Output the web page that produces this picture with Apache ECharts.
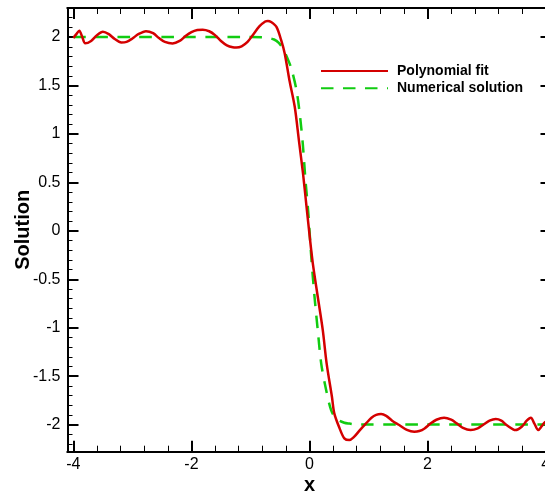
<!DOCTYPE html>
<html>
<head>
<meta charset="utf-8">
<script src="https://cdn.jsdelivr.net/npm/echarts@6/dist/echarts.min.js"></script>
<style>
html,body{margin:0;padding:0;background:#fff;}
#chart{width:545px;height:492px;}
</style>
</head>
<body>
<div id="chart"></div>
<script>
// ---- data ----
const seriesNames = ['Polynomial fit', 'Numerical solution'];
const polyX = [-4.00,-3.95,-3.90,-3.85,-3.80,-3.70,-3.60,-3.50,-3.40,-3.30,-3.19,-3.10,-3.00,-2.90,-2.77,-2.65,-2.55,-2.45,-2.32,-2.20,-2.10,-2.00,-1.90,-1.81,-1.70,-1.60,-1.50,-1.40,-1.30,-1.24,-1.15,-1.05,-0.95,-0.85,-0.75,-0.705,-0.65,-0.56,-0.48,-0.42,-0.34,-0.25,-0.18,-0.11,-0.05,0.01,0.056,0.14,0.225,0.29,0.38,0.42,0.51,0.59,0.676,0.75,0.85,0.958,1.05,1.13,1.212,1.30,1.40,1.52,1.65,1.775,1.86,1.95,2.05,2.15,2.28,2.40,2.50,2.60,2.73,2.85,2.95,3.05,3.155,3.25,3.35,3.49,3.60,3.68,3.75,3.81,3.875,3.93,3.97,4.00];
const polyY = [1.99,2.03,2.065,2.00,1.935,1.96,2.02,2.055,2.03,1.98,1.944,1.95,1.985,2.03,2.061,2.04,1.99,1.95,1.934,1.96,2.01,2.05,2.072,2.076,2.06,2.02,1.96,1.915,1.895,1.893,1.905,1.95,2.03,2.11,2.16,2.167,2.155,2.105,1.968,1.831,1.555,1.28,0.936,0.592,0.248,-0.096,-0.336,-0.681,-1.025,-1.368,-1.713,-1.884,-2.039,-2.142,-2.160,-2.13,-2.06,-1.988,-1.93,-1.90,-1.892,-1.91,-1.96,-2.005,-2.055,-2.074,-2.067,-2.04,-1.99,-1.95,-1.930,-1.95,-1.99,-2.035,-2.057,-2.04,-2.00,-1.96,-1.943,-1.96,-2.01,-2.057,-2.02,-1.96,-1.930,-1.99,-2.057,-2.02,-1.988,-1.97];
const numX = [-4,-3,-2,-1,-0.8,-0.73,-0.6,-0.52,-0.45,-0.38,-0.31,-0.22,-0.16,-0.114,-0.068,-0.022,0.03,0.085,0.14,0.198,0.282,0.366,0.45,0.59,0.676,0.8,1,2,3,4];
const numY = [2,2,2,2,1.999,1.995,1.975,1.94,1.88,1.79,1.68,1.45,1.18,0.90,0.52,0.20,-0.27,-0.68,-1.025,-1.368,-1.644,-1.85,-1.936,-1.981,-1.99,-1.999,-2,-2,-2,-2];
const xMajorTicks = [-4,-2,0,2,4];
const xMinorTicks = [-3.6,-3.2,-2.8,-2.4,-1.6,-1.2,-0.8,-0.4,0.4,0.8,1.2,1.6,2.4,2.8,3.2,3.6];
const yMajorTicks = [-2,-1.5,-1,-0.5,0,0.5,1,1.5,2];
const yMinorTicks = [-2.2,-2.1,-1.9,-1.8,-1.7,-1.6,-1.4,-1.3,-1.2,-1.1,-0.9,-0.8,-0.7,-0.6,-0.4,-0.3,-0.2,-0.1,0.1,0.2,0.3,0.4,0.6,0.7,0.8,0.9,1.1,1.2,1.3,1.4,1.6,1.7,1.8,1.9,2.1,2.2];
const xRange = [-4.1, 4.1];
const yRange = [-2.28, 2.3];

const pair = (xs, ys) => xs.map((x, i) => [x, ys[i]]);
const font = 'Arial, "Liberation Sans", Helvetica, sans-serif';

function xAx(pos, ticks, len, w, labels, extra) {
  return Object.assign({
    type: 'value', position: pos, min: xRange[0], max: xRange[1],
    axisLine: {show: true, onZero: false, lineStyle: {color: '#000', width: 2}},
    axisTick: {show: true, inside: true, length: len, customValues: ticks, lineStyle: {color: '#000', width: w}},
    axisLabel: labels ? {show: true, customValues: ticks, fontSize: 16, color: '#000', fontFamily: font, margin: 5, hideOverlap: false} : {show: false},
    splitLine: {show: false}
  }, extra || {});
}
function yAx(pos, ticks, len, w, labels, extra) {
  return Object.assign({
    type: 'value', position: pos, min: yRange[0], max: yRange[1],
    axisLine: {show: true, onZero: false, lineStyle: {color: '#000', width: 2}},
    axisTick: {show: true, inside: true, length: len, customValues: ticks, lineStyle: {color: '#000', width: w}},
    axisLabel: labels ? {show: true, customValues: ticks, fontSize: 16, color: '#000', fontFamily: font, margin: 7} : {show: false},
    splitLine: {show: false}
  }, extra || {});
}

const chart = echarts.init(document.getElementById('chart'), null, {renderer: 'canvas'});
chart.setOption({
  animation: false,
  backgroundColor: '#fff',
  grid: {left: 67.5, right: -6.5, top: 8, bottom: 40.3, containLabel: false, outerBoundsMode: 'none'},
  legend: {
    orient: 'vertical', left: 320, top: 64, padding: 0, itemWidth: 67, itemHeight: 14, itemGap: 3.3,
    data: seriesNames,
    textStyle: {fontSize: 14, fontWeight: 'bold', color: '#000', fontFamily: font, padding: [0,0,0,4]},
    itemStyle: {opacity: 0}
  },
  xAxis: [
    xAx('bottom', xMajorTicks, 11, 2, true, {name: 'x', nameLocation: 'middle', nameGap: 23.5, nameMoveOverlap: false,
      nameTextStyle: {fontSize: 20, fontWeight: 'bold', color: '#000', fontFamily: font}}),
    xAx('bottom', xMinorTicks, 6, 1, false),
    xAx('top', xMajorTicks, 11, 2, false),
    xAx('top', xMinorTicks, 6, 1, false)
  ],
  yAxis: [
    yAx('left', yMajorTicks, 11, 2, true, {name: 'Solution', nameLocation: 'middle', nameGap: 34, nameRotate: 90, nameMoveOverlap: false,
      nameTextStyle: {fontSize: 20, fontWeight: 'bold', color: '#000', fontFamily: font}}),
    yAx('left', yMinorTicks, 5, 1, false),
    yAx('right', yMajorTicks, 11, 2, false),
    yAx('right', yMinorTicks, 5, 1, false)
  ],
  series: [
    {name: seriesNames[0], type: 'line', xAxisIndex: 0, yAxisIndex: 0, data: pair(polyX, polyY),
      showSymbol: false, symbol: 'none', smooth: 0.3, lineStyle: {color: '#d40000', width: 2.5}, itemStyle: {color: '#d40000'}, z: 3},
    {name: seriesNames[1], type: 'line', xAxisIndex: 0, yAxisIndex: 0, data: pair(numX, numY),
      showSymbol: false, symbol: 'none', smooth: 0.3, lineStyle: {color: '#11cc11', width: 2.5, type: [12.5, 9.5]}, itemStyle: {color: '#11cc11'}, z: 2}
  ]
});
</script>
</body>
</html>
